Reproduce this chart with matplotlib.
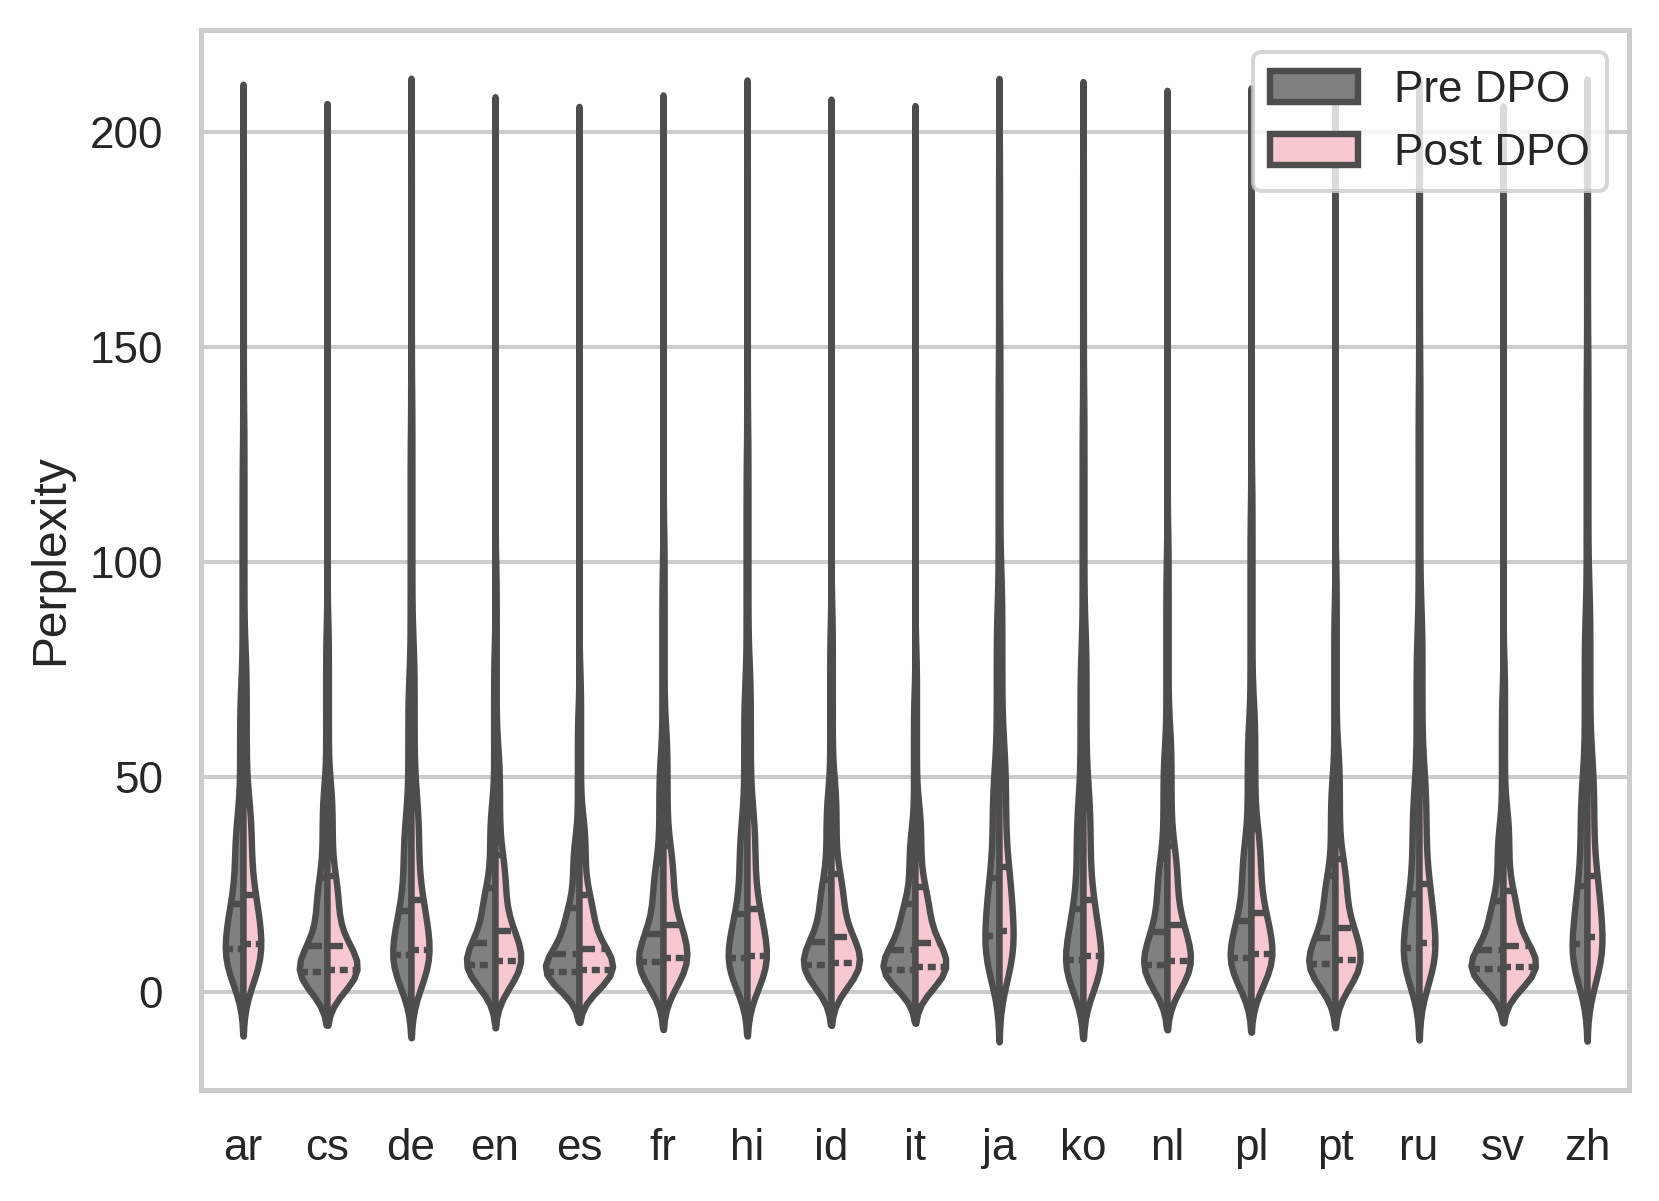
import numpy as np
import pandas as pd
import matplotlib
matplotlib.use("Agg")
import matplotlib.pyplot as plt
import seaborn as sns

languages = ["ar", "cs", "de", "en", "es", "fr", "hi", "id", "it",
             "ja", "ko", "nl", "pl", "pt", "ru", "sv", "zh"]

# perplexity at these percentiles (min, p5, Q1, median, Q3, p90, p97, max)
levels = [0, 5, 25, 50, 75, 90, 97, 100]

pre_dpo = [
    [1, 4.0, 10.1, 20.4, 41, 72, 125, 200],   # ar
    [1, 2.0, 4.75, 10.8, 26.5, 48, 85, 198],  # cs
    [1, 3.4, 8.6, 18.8, 41, 74, 130, 201],    # de
    [1, 2.6, 6.3, 11.5, 24.3, 44, 80, 199],   # en
    [1, 2.0, 4.75, 8.9, 19.6, 36, 66, 198],   # es
    [1, 2.8, 6.9, 13.5, 30, 55, 98, 199],     # fr
    [1, 3.2, 8.0, 18.1, 40, 72, 125, 201],    # hi
    [1, 2.6, 6.3, 11.7, 26.1, 47, 85, 199],   # id
    [1, 2.2, 5.2, 9.8, 20.6, 38, 70, 198],    # it
    [1, 5.0, 13.1, 26.5, 52, 90, 145, 200],   # ja
    [1, 3.0, 7.5, 19.4, 45, 80, 135, 200],    # ko
    [1, 2.6, 6.3, 14.0, 31, 57, 100, 200],    # nl
    [1, 3.2, 8.0, 16.5, 35, 63, 112, 200],    # pl
    [1, 2.7, 6.5, 12.5, 27, 50, 90, 199],     # pt
    [1, 4.0, 10.2, 22.9, 48, 84, 140, 200],   # ru
    [1, 2.3, 5.4, 9.8, 21.2, 39, 70, 198],    # sv
    [1, 4.4, 11.1, 24.6, 50, 88, 145, 200],   # zh
]

post_dpo = [
    [1, 4.5, 11.1, 22.5, 45, 80, 135, 200],   # ar
    [1, 2.1, 5.1, 10.8, 27.1, 49, 87, 198],   # cs
    [1, 3.9, 9.8, 21.4, 46, 82, 140, 201],    # de
    [1, 3.0, 7.3, 14.2, 31.9, 57, 100, 199],  # en
    [1, 2.2, 5.2, 10.0, 22.6, 41, 75, 198],   # es
    [1, 3.2, 8.0, 15.7, 34, 62, 108, 199],    # fr
    [1, 3.4, 8.4, 19.4, 43, 77, 132, 201],    # hi
    [1, 2.8, 6.7, 12.7, 27.5, 50, 90, 199],   # id
    [1, 2.4, 5.8, 11.4, 24.4, 44, 80, 198],   # it
    [1, 5.5, 14.2, 29.2, 58, 98, 155, 200],   # ja
    [1, 3.3, 8.3, 21.5, 48, 85, 140, 200],    # ko
    [1, 2.9, 7.2, 15.7, 34, 62, 108, 200],    # nl
    [1, 3.6, 8.9, 18.4, 38, 68, 120, 200],    # pl
    [1, 3.0, 7.4, 14.8, 31, 57, 100, 199],    # pt
    [1, 4.6, 11.5, 25.2, 52, 90, 148, 200],   # ru
    [1, 2.4, 5.8, 10.6, 23.5, 43, 78, 198],   # sv
    [1, 5.0, 12.9, 27.1, 55, 95, 152, 200],   # zh
]

n_obs = 12000

# expand each percentile summary into observations for the kde
probs = np.linspace(0, 100, n_obs)
frames = []
for lang, pre, post in zip(languages, pre_dpo, post_dpo):
    for stage, q in (("Pre DPO", pre), ("Post DPO", post)):
        frames.append(pd.DataFrame({"language": lang, "stage": stage,
                                    "perplexity": np.interp(probs, levels, q)}))
df = pd.concat(frames, ignore_index=True)

sns.set_theme(style="whitegrid")
plt.rcParams["font.family"] = ["Liberation Sans", "DejaVu Sans"]

fig = plt.figure(figsize=(1659 / 288, 1201 / 288), dpi=288)
ax = fig.add_axes([201 / 1659, 1 - 1090 / 1201, 1428 / 1659, 1060 / 1201])

sns.violinplot(data=df, x="language", y="perplexity", hue="stage",
               split=True, inner="quart", linewidth=1.6,
               palette={"Pre DPO": "gray", "Post DPO": "pink"}, ax=ax)

ax.set_xlabel("")
ax.set_ylabel("Perplexity")
handles, labels = ax.get_legend_handles_labels()
ax.legend(handles, labels, loc="upper right")

fig.savefig("out.png", dpi=288)
